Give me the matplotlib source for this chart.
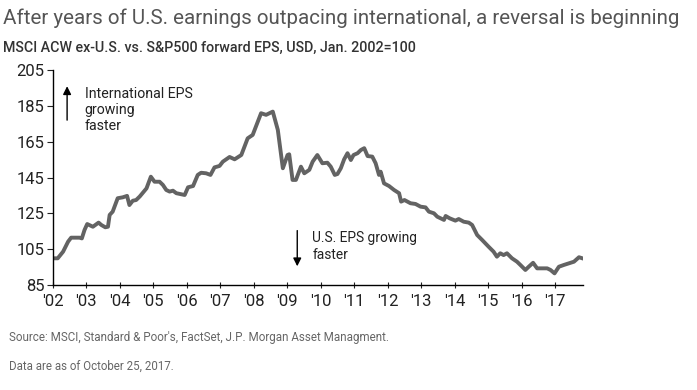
import matplotlib
matplotlib.use("Agg")
import matplotlib.pyplot as plt

# MSCI ACW ex-U.S. vs. S&P500 forward EPS ratio, Jan. 2002 = 100
dates = [
    2002.00, 2002.15, 2002.31, 2002.46, 2002.55, 2002.80, 2002.87, 2002.95,
    2003.03, 2003.20, 2003.37, 2003.45, 2003.57, 2003.65, 2003.70, 2003.79,
    2003.94, 2004.09, 2004.22, 2004.29, 2004.39, 2004.49, 2004.60, 2004.80,
    2004.93, 2005.04, 2005.19, 2005.29, 2005.39, 2005.49, 2005.59, 2005.69,
    2005.94, 2006.04, 2006.19, 2006.33, 2006.43, 2006.58, 2006.71, 2006.83,
    2006.98, 2007.08, 2007.28, 2007.43, 2007.63, 2007.82, 2007.97, 2008.22,
    2008.37, 2008.57, 2008.72, 2008.87, 2009.01, 2009.06, 2009.16, 2009.26,
    2009.41, 2009.51, 2009.66, 2009.76, 2009.90, 2010.05, 2010.20, 2010.30,
    2010.42, 2010.50, 2010.60, 2010.70, 2010.80, 2010.90, 2010.98, 2011.10,
    2011.20, 2011.30, 2011.40, 2011.54, 2011.64, 2011.74, 2011.79, 2011.89,
    2012.04, 2012.19, 2012.34, 2012.40, 2012.50, 2012.68, 2012.83, 2012.98,
    2013.13, 2013.23, 2013.38, 2013.48, 2013.68, 2013.73, 2013.85, 2014.02,
    2014.12, 2014.27, 2014.42, 2014.52, 2014.67, 2014.82, 2015.01, 2015.16,
    2015.26, 2015.36, 2015.46, 2015.56, 2015.71, 2015.86, 2015.96, 2016.11,
    2016.21, 2016.34, 2016.46, 2016.76, 2016.86, 2016.98, 2017.11, 2017.26,
    2017.41, 2017.56, 2017.71, 2017.81,
]
values = [
    100.0, 100.0, 103.7, 109.3, 111.5, 111.5, 111.1, 115.8,
    119.1, 117.6, 119.9, 118.6, 117.3, 117.6, 124.2, 126.0,
    133.5, 134.0, 134.8, 129.7, 132.1, 132.5, 134.5, 139.0,
    145.5, 142.7, 142.7, 140.9, 138.1, 137.2, 137.7, 136.3,
    135.3, 139.6, 140.3, 146.5, 147.7, 147.4, 146.5, 150.7,
    151.5, 153.9, 156.5, 155.2, 157.6, 166.9, 168.8, 180.9,
    180.0, 181.8, 171.6, 150.2, 157.6, 158.0, 143.7, 143.7,
    151.1, 147.4, 149.3, 153.9, 157.6, 153.0, 153.3, 151.1,
    146.5, 147.0, 150.2, 155.2, 158.6, 154.8, 157.6, 158.6,
    160.4, 161.4, 157.0, 156.7, 153.0, 146.5, 148.3, 141.8,
    140.3, 138.1, 136.3, 131.6, 132.5, 130.7, 130.3, 128.8,
    128.4, 126.0, 125.1, 123.2, 121.4, 123.6, 122.3, 121.0,
    121.9, 120.4, 119.9, 118.6, 113.0, 110.2, 106.5, 103.7,
    100.9, 102.8, 101.8, 102.8, 100.0, 98.1, 96.3, 93.5,
    95.3, 97.5, 94.4, 94.4, 93.5, 91.6, 95.3, 96.3,
    97.2, 98.1, 100.6, 100.0,
]
years = list(range(2002, 2018))
year_labels = ["'%02d" % (y % 100) for y in years]
y_ticks = [85, 105, 125, 145, 165, 185, 205]

title = "After years of U.S. earnings outpacing international, a reversal is beginning"
subtitle = "MSCI ACW ex-U.S. vs. S&P500 forward EPS, USD, Jan. 2002=100"
source = "Source: MSCI, Standard & Poor's, FactSet, J.P. Morgan Asset Managment."
asof = "Data are as of October 25, 2017."

plt.rcParams['font.family'] = ['Roboto', 'DejaVu Sans']

W, H = 697, 390
fig = plt.figure(figsize=(W / 100, H / 100), dpi=100)


def fx(px):
    return px / W


def fy(py):
    return 1 - py / H


def fit_width(txt, target_px):
    # scale the font so the text spans about as wide as in the reference
    r = fig.canvas.get_renderer()
    w = txt.get_window_extent(renderer=r).width
    txt.set_fontsize(txt.get_fontsize() * target_px / w)


# axes box in pixels: left 52.7, right 583, top 70, bottom 285.2
ax = fig.add_axes([fx(52.7), fy(285.2), fx(583 - 52.7), (285.2 - 70) / H])

ax.plot(dates, values, color="#636363", lw=2.8, solid_joinstyle="round")

ax.set_xlim(2002, 2017.83)
ax.set_ylim(85, 205)
ax.set_xticks(years)
ax.set_xticklabels(year_labels)
ax.set_yticks(y_ticks)
for s in ["top", "right"]:
    ax.spines[s].set_visible(False)
for s in ["left", "bottom"]:
    ax.spines[s].set_color("black")
    ax.spines[s].set_linewidth(1.0)
ax.tick_params(axis="x", direction="inout", length=5, width=0.8, labelsize=12,
               colors="#222222", pad=4)
ax.tick_params(axis="y", direction="out", length=4, width=0.8, labelsize=12,
               colors="#222222", pad=2)

# annotations
ax.annotate("", xy=(2002.43, 197.5), xytext=(2002.43, 175.5),
            arrowprops=dict(arrowstyle="-|>", color="black", lw=1.0,
                            mutation_scale=12))
t1 = ax.text(2002.96, 195.5, "International EPS\ngrowing\nfaster", fontsize=12.5,
             color="#222222", va="top", ha="left", linespacing=1.2)
ax.annotate("", xy=(2009.3, 94.0), xytext=(2009.3, 117),
            arrowprops=dict(arrowstyle="-|>", color="black", lw=1.0,
                            mutation_scale=12))
t2 = ax.text(2009.75, 115, "U.S. EPS growing\nfaster", fontsize=12.5,
             color="#222222", va="top", ha="left", linespacing=1.2)

# titles and notes
tt = fig.text(fx(3), fy(18), title, fontsize=16, color="#555555", va="center", ha="left")
st = fig.text(fx(3), fy(48), subtitle, fontsize=12, color="#333333", va="center",
              ha="left", fontweight="medium")
so = fig.text(fx(9), fy(337), source, fontsize=10, color="#666666", va="center", ha="left")
ao = fig.text(fx(9), fy(366), asof, fontsize=10, color="#666666", va="center", ha="left")

fit_width(tt, 678)
fit_width(st, 414)
fit_width(so, 382)
fit_width(ao, 165)
fit_width(t1, 108)
fit_width(t2, 105)

fig.savefig("out.png", dpi=100, facecolor="white")
